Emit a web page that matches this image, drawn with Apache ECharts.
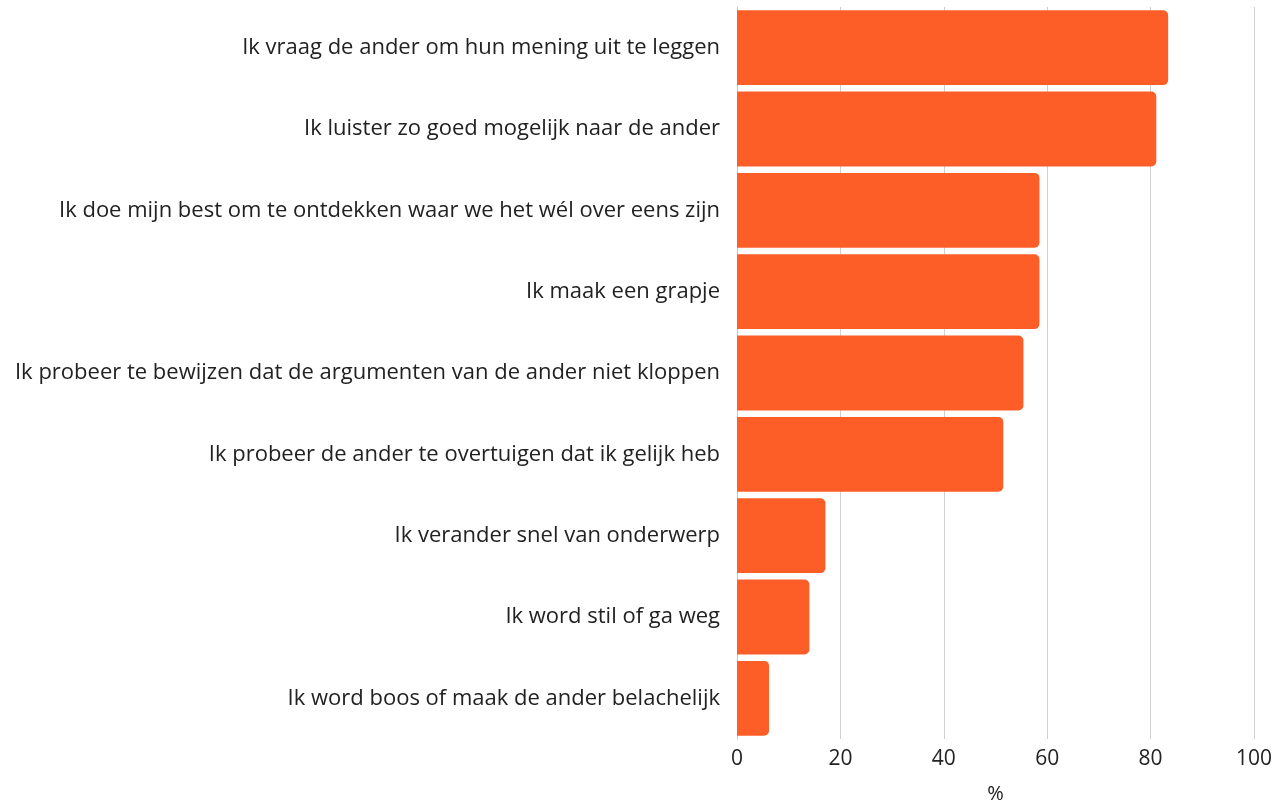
<!DOCTYPE html>
<html>
<head>
<meta charset="utf-8">
<script src="https://cdn.jsdelivr.net/npm/echarts@6/dist/echarts.min.js"></script>
<style>
  html, body { margin: 0; padding: 0; background: #fff; }
  #chart { width: 1282px; height: 805px; }
</style>
</head>
<body>
<div id="chart"></div>
<script>
const categories = [
  'Ik vraag de ander om hun mening uit te leggen',
  'Ik luister zo goed mogelijk naar de ander',
  'Ik doe mijn best om te ontdekken waar we het wél over eens zijn',
  'Ik maak een grapje',
  'Ik probeer te bewijzen dat de argumenten van de ander niet kloppen',
  'Ik probeer de ander te overtuigen dat ik gelijk heb',
  'Ik verander snel van onderwerp',
  'Ik word stil of ga weg',
  'Ik word boos of maak de ander belachelijk'
]
const values = [83.4, 81.1, 58.5, 58.5, 55.4, 51.5, 17.1, 14.0, 6.2]

const font = '"Open Sans", Lato, sans-serif'
const chart = echarts.init(document.getElementById('chart'))

chart.setOption({
  animation: false,
  textStyle: { fontFamily: font },
  grid: { left: 737, right: 28, top: 7, bottom: 66, containLabel: false, outerBoundsMode: 'none' },
  xAxis: {
    type: 'value',
    min: 0,
    max: 100,
    interval: 20,
    name: '%',
    nameLocation: 'middle',
    nameGap: 45,
    nameTextStyle: { color: '#222', fontSize: 20, fontFamily: font },
    axisLine: { show: false },
    axisTick: { show: false },
    axisLabel: { color: '#222', fontSize: 21, margin: 10, fontFamily: font },
    splitLine: { lineStyle: { color: '#d0d0d0', width: 1 } }
  },
  yAxis: {
    type: 'category',
    inverse: true,
    data: categories,
    axisLine: { show: true, lineStyle: { color: '#c8c8c8' } },
    axisTick: { show: false },
    axisLabel: { color: '#222', fontSize: 22, margin: 17, fontFamily: font }
  },
  series: [{
    type: 'bar',
    data: values,
    barCategoryGap: '7.9%',
    itemStyle: { color: '#FD5E27', borderRadius: [0, 5, 5, 0] }
  }]
})
</script>
</body>
</html>
